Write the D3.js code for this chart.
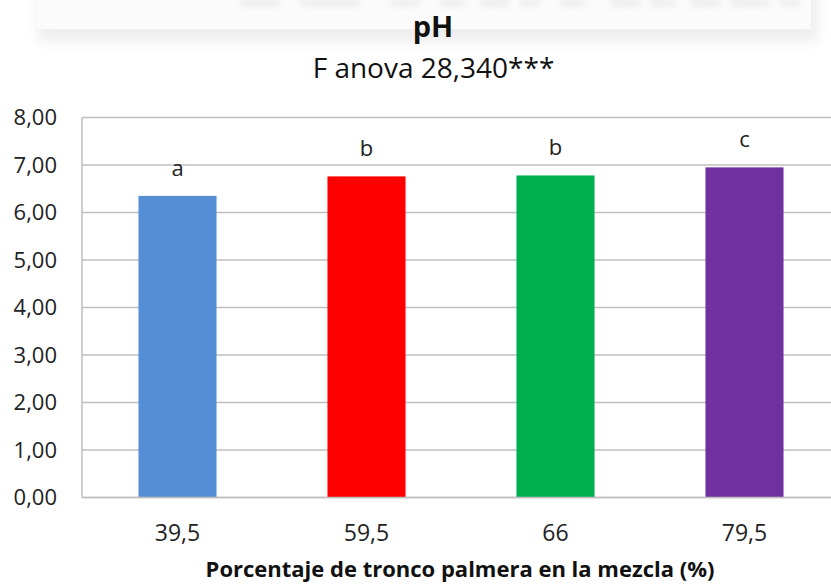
<!DOCTYPE html>
<html>
<head>
<meta charset="utf-8">
<script src="https://cdn.jsdelivr.net/npm/d3@7"></script>
<style>
html,body{margin:0;padding:0;background:#fff;}
svg{display:block;}
</style>
</head>
<body>
<svg id="chart" width="831" height="585"></svg>
<script>
const categories = ["39,5", "59,5", "66", "79,5"];
const values = [6.35, 6.76, 6.78, 6.95];
const letters = ["a", "b", "b", "c"];
const colors = ["#558ED5", "#FF0000", "#00B050", "#7030A0"];
const yTicks = [0, 1, 2, 3, 4, 5, 6, 7, 8];
const title = "pH";
const subtitle = "F anova 28,340***";
const xTitle = "Porcentaje de tronco palmera en la mezcla (%)";

const svg = d3.select("#chart");
const font = "'Open Sans', sans-serif";

// faint banner artifact at top
const defs = svg.append("defs");
const f = defs.append("filter").attr("id", "blur").attr("x", "-10%").attr("y", "-50%").attr("width", "120%").attr("height", "200%");
f.append("feGaussianBlur").attr("stdDeviation", 6);
const f2 = defs.append("filter").attr("id", "blur2").attr("x", "-20%").attr("y", "-100%").attr("width", "140%").attr("height", "300%");
f2.append("feGaussianBlur").attr("stdDeviation", 3);
svg.append("rect").attr("x", 38).attr("y", -20).attr("width", 780).attr("height", 62)
  .attr("fill", "#eeeeee").attr("filter", "url(#blur)");
svg.append("rect").attr("x", 37).attr("y", -20).attr("width", 774).attr("height", 49)
  .attr("fill", "#fbfbfb");
const blobs = [[240, 40], [300, 60], [390, 30], [440, 25], [480, 30], [520, 20], [560, 25], [610, 30], [650, 25], [690, 30], [730, 40], [780, 20]];
svg.append("g").selectAll("rect").data(blobs).join("rect")
  .attr("x", d => d[0]).attr("y", -2).attr("width", d => d[1]).attr("height", 9)
  .attr("fill", "#efefef").attr("filter", "url(#blur2)");

const plot = {left: 82, right: 839, top: 117.5, bottom: 497.5};

const x = d3.scaleBand().domain(categories).range([plot.left + 1, plot.right])
  .paddingInner(0.587).paddingOuter(0.2935);
const y = d3.scaleLinear().domain([0, 8]).range([plot.bottom, plot.top]);

// gridlines
svg.append("g").selectAll("line").data(yTicks).join("line")
  .attr("x1", plot.left).attr("x2", plot.right)
  .attr("y1", d => y(d)).attr("y2", d => y(d))
  .attr("stroke", "#BFBFBF").attr("stroke-width", 1.5);

// left axis line
svg.append("line").attr("x1", plot.left).attr("x2", plot.left)
  .attr("y1", plot.top).attr("y2", plot.bottom)
  .attr("stroke", "#BFBFBF").attr("stroke-width", 1.5);

// y tick labels
const yAxis = d3.axisLeft(y).tickValues(yTicks).tickSize(0).tickPadding(25)
  .tickFormat(d => d3.format(".2f")(d).replace(".", ","));
const ya = svg.append("g").attr("transform", `translate(${plot.left},0)`).call(yAxis);
ya.select(".domain").remove();
ya.selectAll("text").attr("font-family", font).attr("font-size", 22).attr("fill", "#222");

// bars
svg.append("g").selectAll("rect").data(values).join("rect")
  .attr("x", (d, i) => x(categories[i]))
  .attr("width", x.bandwidth())
  .attr("y", d => y(d))
  .attr("height", d => y(0) - y(d))
  .attr("fill", (d, i) => colors[i]);

// bottom axis line
svg.append("line").attr("x1", plot.left).attr("x2", plot.right)
  .attr("y1", y(0)).attr("y2", y(0))
  .attr("stroke", "#BFBFBF").attr("stroke-width", 1.5);

// letters
svg.append("g").selectAll("text").data(values).join("text")
  .attr("x", (d, i) => x(categories[i]) + x.bandwidth() / 2)
  .attr("y", d => y(d) - 20)
  .attr("text-anchor", "middle")
  .attr("font-family", font).attr("font-size", 22).attr("fill", "#222")
  .text((d, i) => letters[i]);

// x tick labels
const xAxis = d3.axisBottom(x).tickSize(0).tickPadding(27);
const xa = svg.append("g").attr("transform", `translate(0,${plot.bottom})`).call(xAxis);
xa.select(".domain").remove();
xa.selectAll("text").attr("font-family", font).attr("font-size", 23).attr("fill", "#222");

// titles
svg.append("text").attr("x", 433).attr("y", 37).attr("text-anchor", "middle")
  .attr("font-family", font).attr("font-weight", "bold").attr("font-size", 29).attr("fill", "#111")
  .text(title);
svg.append("text").attr("x", 433.5).attr("y", 78).attr("text-anchor", "middle")
  .attr("font-family", font).attr("font-size", 28).attr("fill", "#111")
  .text(subtitle);
svg.append("text").attr("x", 460).attr("y", 577).attr("text-anchor", "middle")
  .attr("font-family", font).attr("font-weight", "bold").attr("font-size", 22).attr("fill", "#111")
  .text(xTitle);
</script>
</body>
</html>
